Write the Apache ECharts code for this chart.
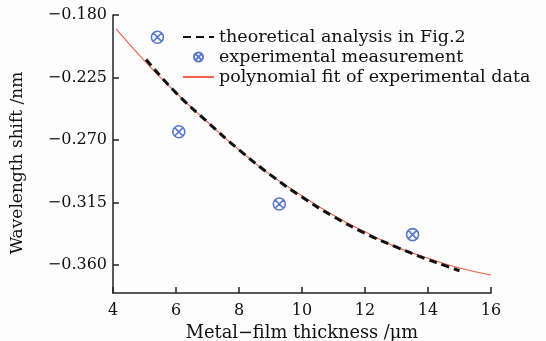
<!DOCTYPE html>
<html><head><meta charset="utf-8">
<script src="https://cdn.jsdelivr.net/npm/echarts@6/dist/echarts.min.js"></script>
<style>html,body{margin:0;padding:0;background:#fdfdfd;}#c{width:546px;height:341px;}</style>
</head><body><div id="c"></div>
<script>
// Theoretical analysis (dashed black)
var theoryX = [5.05, 6, 7, 8, 9, 10, 11, 12, 13, 14, 14.5, 15];
var theoryY = [-0.212, -0.236, -0.257, -0.277, -0.295, -0.311, -0.325, -0.337, -0.347, -0.356, -0.360, -0.364];
// Experimental measurements
var expX = [5.41, 6.09, 9.28, 13.51];
var expY = [-0.196, -0.264, -0.316, -0.338];
// Polynomial fit (red)
var fitX = [4.1, 5, 6, 7, 8, 9, 10, 11, 12, 13, 14, 15, 16];
var fitY = [-0.190, -0.213, -0.236, -0.257, -0.277, -0.295, -0.310, -0.324, -0.336, -0.347, -0.355, -0.362, -0.367];
var yTicks = [-0.18, -0.225, -0.27, -0.315, -0.36];
var names = ['theoretical analysis in Fig.2', 'experimental measurement', 'polynomial fit of experimental data'];
var xTitle = 'Metal\u2212film thickness /\u03bcm';
var yTitle = 'Wavelength shift /nm';

function pairs(xs, ys){ return xs.map(function(x,i){ return [x, ys[i]]; }); }
var font = 'DejaVu Serif';
var markPath = 'path://M0,-10 A10,10 0 1,1 0,10 A10,10 0 1,1 0,-10 Z M-7,-7 L7,7 M-7,7 L7,-7';
var chart = echarts.init(document.getElementById('c'));
chart.setOption({
  backgroundColor: '#fdfdfd',
  animation: false,
  grid: {left: 113, right: 55, top: 15, bottom: 48, containLabel: false, outerBoundsMode: 'none'},
  graphic: [{
    type: 'text', x: 18, y: 163, rotation: Math.PI / 2,
    style: {text: yTitle, font: '17px "DejaVu Serif"', fill: '#111', textAlign: 'center', textVerticalAlign: 'middle'}
  }],
  legend: {
    orient: 'vertical', left: 182, top: 27, padding: 0, itemWidth: 31, itemHeight: 9, itemGap: 0,
    textStyle: {fontFamily: font, fontSize: 17.5, color: '#111', lineHeight: 20},
    data: [
      {name: names[0], itemStyle: {opacity: 0}},
      {name: names[1]},
      {name: names[2], itemStyle: {opacity: 0}}
    ]
  },
  xAxis: {
    type: 'value', min: 4, max: 16, interval: 2,
    name: xTitle, nameLocation: 'middle', nameGap: 31,
    nameTextStyle: {fontFamily: font, fontSize: 17.8, color: '#111'},
    axisLine: {lineStyle: {color: '#222', width: 1.5}},
    axisTick: {inside: true, length: 6, lineStyle: {color: '#222', width: 1.5}},
    axisLabel: {fontFamily: font, fontSize: 16, color: '#111', margin: 10},
    splitLine: {show: false}
  },
  yAxis: {
    type: 'value', min: -0.38, max: -0.18,
    axisLine: {lineStyle: {color: '#222', width: 1.5}},
    axisTick: {inside: true, length: 6, customValues: yTicks, lineStyle: {color: '#222', width: 1.5}},
    axisLabel: {fontFamily: font, fontSize: 16, color: '#111', margin: 6, customValues: yTicks,
      formatter: function(v){ return '\u2212' + Math.abs(v).toFixed(3); }},
    splitLine: {show: false}
  },
  series: [
    {name: names[0], type: 'line', data: pairs(theoryX, theoryY), smooth: true, showSymbol: false, symbol: 'none',
      lineStyle: {color: '#111', width: 3, type: [8, 5]}, itemStyle: {color: '#111'}, z: 3},
    {name: names[1], type: 'scatter', data: pairs(expX, expY), symbol: markPath, symbolSize: 12,
      itemStyle: {color: 'none', borderColor: '#2f55c0', borderWidth: 1.6}, z: 4},
    {name: names[2], type: 'line', data: pairs(fitX, fitY), smooth: true, showSymbol: false, symbol: 'none',
      lineStyle: {color: '#f0604a', width: 1.1}, itemStyle: {color: '#f0604a'}, z: 2}
  ]
});
</script></body></html>
